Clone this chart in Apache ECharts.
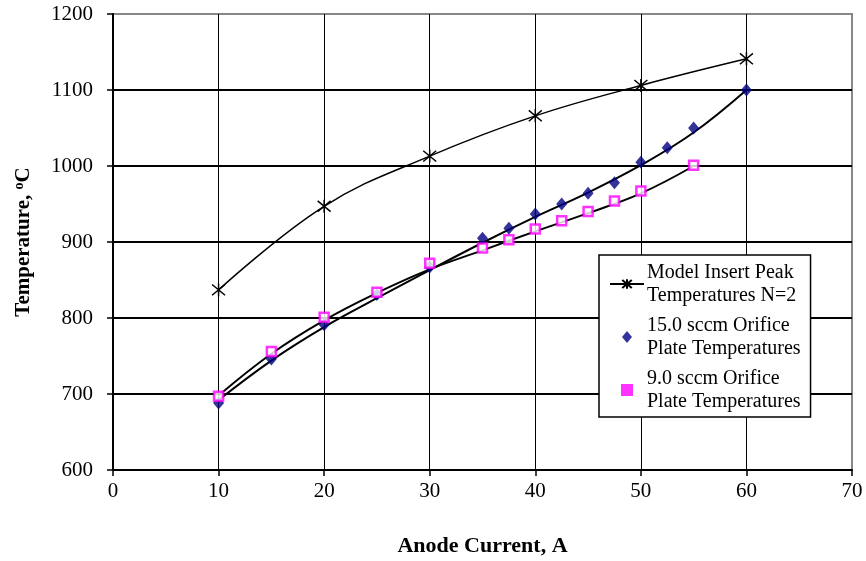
<!DOCTYPE html>
<html>
<head>
<meta charset="utf-8">
<script src="https://cdn.jsdelivr.net/npm/echarts@6/dist/echarts.min.js"></script>
<style>
  html, body { margin: 0; padding: 0; background: #fff; }
  #chart { width: 866px; height: 561px; }
</style>
</head>
<body>
<div id="chart"></div>
<script>
// model insert peak temperatures, N=2
const modelX = [10, 20, 30, 40, 50, 60]
const modelY = [837, 947, 1013, 1066, 1106, 1141]

// 15.0 sccm orifice plate temperatures
const sccm15X = [10, 15, 20, 25, 30, 35, 37.5, 40, 42.5, 45, 47.5, 50, 52.5, 55, 60]
const sccm15Y = [688, 746, 791, 831, 867, 905, 918, 937, 950, 964, 978, 1005, 1024, 1050, 1100]

// 9.0 sccm orifice plate temperatures
const sccm9X = [10, 15, 20, 25, 30, 35, 37.5, 40, 42.5, 45, 47.5, 50, 55]
const sccm9Y = [697, 756, 801, 834, 872, 892, 903, 917, 928, 940, 954, 967, 1001]

// trendlines
const trend15X = [10, 15, 20, 25, 30, 35, 40, 45, 50, 55, 60]
const trend15Y = [692, 744, 788, 826, 863, 899, 933, 965, 1001, 1044, 1100]
const trend9X = [10, 15, 20, 25, 30, 35, 40, 45, 50, 55]
const trend9Y = [698, 753, 797, 833, 864, 889, 914, 938, 964, 1000]

const xTicks = [0, 10, 20, 30, 40, 50, 60, 70]
const yTicks = [600, 700, 800, 900, 1000, 1100, 1200]

const names = [
  'Model Insert Peak\nTemperatures N=2',
  '15.0 sccm Orifice\nPlate Temperatures',
  '9.0 sccm Orifice\nPlate Temperatures'
]

const pair = (xs, ys) => xs.map((x, i) => [x, ys[i]])
const font = '"Liberation Serif", "Times New Roman", serif'
const asterisk = 'path://M0,0 L10,10 M10,0 L0,10 M5,-1 L5,11'
const diamondIcon = 'path://M5,0 L10,6 L5,12 L0,6 Z'
const squareIcon = 'path://M0,0 L10,0 L10,10 L0,10 Z'

const chart = echarts.init(document.getElementById('chart'))
chart.setOption({
  animation: false,
  textStyle: { fontFamily: font, color: '#000' },
  grid: {
    left: 113, right: 14, top: 14, bottom: 91,
    outerBoundsMode: 'none',
    show: true, borderColor: '#888', borderWidth: 2
  },
  legend: {
    data: [
      { name: names[0] },
      { name: names[1], icon: diamondIcon },
      { name: names[2], icon: squareIcon, itemStyle: { color: '#ff00ff', borderWidth: 0 } }
    ],
    orient: 'vertical',
    left: 599, top: 255,
    padding: [6, 10, 4, 10],
    itemGap: 7,
    itemWidth: 34, itemHeight: 12,
    borderColor: '#000', borderWidth: 1.5,
    backgroundColor: '#fff',
    textStyle: { fontFamily: font, fontSize: 20, lineHeight: 23, color: '#000', padding: [0, 0, 0, -2] }
  },
  xAxis: {
    type: 'value',
    min: xTicks[0], max: xTicks[xTicks.length - 1], interval: 10,
    name: 'Anode Current, A',
    nameLocation: 'middle', nameGap: 65,
    nameTextStyle: { fontFamily: font, fontSize: 22, fontWeight: 'bold', color: '#000' },
    axisLine: { onZero: false, lineStyle: { color: '#000', width: 2 } },
    axisTick: { show: true, length: 6, lineStyle: { color: '#000', width: 1.5 } },
    axisLabel: { fontFamily: font, fontSize: 21, color: '#000', margin: 11 },
    splitLine: { show: true, showMaxLine: false, lineStyle: { color: '#000', width: 1 } }
  },
  yAxis: {
    type: 'value',
    min: yTicks[0], max: yTicks[yTicks.length - 1], interval: 100,
    name: 'Temperature, {sup|o}C',
    nameLocation: 'middle', nameGap: 78, nameRotate: 90,
    nameTextStyle: {
      fontFamily: font, fontSize: 21, fontWeight: 'bold', color: '#000',
      rich: { sup: { fontFamily: font, fontSize: 14, fontWeight: 'bold', verticalAlign: 'top', padding: [0, 0, 9, 0] } }
    },
    axisLine: { show: true, lineStyle: { color: '#000', width: 2 } },
    axisTick: { show: true, length: 6, lineStyle: { color: '#000', width: 1.5 } },
    axisLabel: { fontFamily: font, fontSize: 21, color: '#000', margin: 20, formatter: v => String(v) },
    splitLine: { show: true, showMaxLine: false, lineStyle: { color: '#000', width: 2 } }
  },
  series: [
    {
      name: names[0], type: 'line', smooth: 0.4,
      data: pair(modelX, modelY),
      symbol: asterisk, symbolSize: 13,
      itemStyle: { color: '#000', borderColor: '#000', borderWidth: 1.5 },
      lineStyle: { color: '#000', width: 1.5 },
      z: 5
    },
    {
      name: names[1], type: 'scatter',
      data: pair(sccm15X, sccm15Y),
      symbol: 'diamond', symbolSize: [11, 13],
      itemStyle: { color: '#000080' },
      z: 4
    },
    {
      name: names[2], type: 'scatter',
      data: pair(sccm9X, sccm9Y),
      symbol: 'rect', symbolSize: 9,
      itemStyle: { color: '#fff', borderColor: '#ff00ff', borderWidth: 2.5 },
      z: 4
    },
    {
      name: 'trend15', type: 'line', smooth: 0.4, showSymbol: false,
      data: pair(trend15X, trend15Y),
      lineStyle: { color: '#000', width: 2 },
      z: 3
    },
    {
      name: 'trend9', type: 'line', smooth: 0.4, showSymbol: false,
      data: pair(trend9X, trend9Y),
      lineStyle: { color: '#000', width: 2 },
      z: 3
    }
  ]
})
</script>
</body>
</html>
